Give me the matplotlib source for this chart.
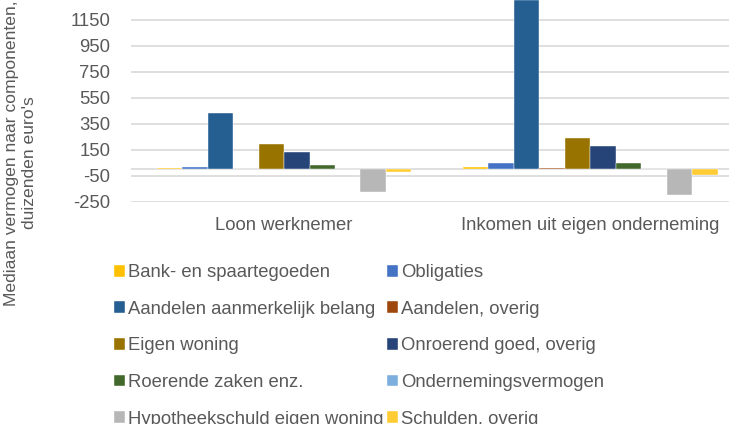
import matplotlib.pyplot as plt
import numpy as np

plt.rcParams['font.family'] = ['Liberation Sans', 'DejaVu Sans']
plt.rcParams['axes.unicode_minus'] = False

# data (duizenden euro's)
groups = ['Loon werknemer', 'Inkomen uit eigen onderneming']
components = ['Bank- en spaartegoeden', 'Obligaties', 'Aandelen aanmerkelijk belang',
              'Aandelen, overig', 'Eigen woning', 'Onroerend goed, overig',
              'Roerende zaken enz.', 'Ondernemingsvermogen',
              'Hypotheekschuld eigen woning', 'Schulden, overig']
loon = [6, 14, 430, 3, 191, 130, 30, 1, -178, -24]
inkomen = [15, 48, 1300, 10, 240, 176, 48, 5, -198, -45]
colors = ['#FFC000', '#4472C4', '#255E91', '#9E480E', '#997300',
          '#264478', '#43682B', '#7CAFDD', '#B7B7B7', '#FFCD33']
yticks = [-250, -50, 150, 350, 550, 750, 950, 1150]

txt = '#595959'
fig = plt.figure(figsize=(7.29, 4.24), dpi=100)
ax = fig.add_axes([131/729, 1 - 201.7/424, 1 - 131/729, 201.7/424])

x = np.arange(len(groups))
w = 0.0833
n = len(components)
handles = []
for i in range(n):
    vals = [loon[i], inkomen[i]]
    b = ax.bar(x + (i - (n - 1) / 2) * w, vals, width=w, color=colors[i],
               edgecolor='white', linewidth=0.3, label=components[i], zorder=3)
    handles.append(b)

ax.set_ylim(-250, 1302)
ax.set_xlim(-0.5, 1.454)
ax.set_yticks(yticks)
ax.yaxis.grid(True, color='#D9D9D9', linewidth=1.2, zorder=0)
ax.axhline(0, color='#D9D9D9', linewidth=1.2, zorder=2)
for s in ax.spines.values():
    s.set_visible(False)
ax.tick_params(axis='both', length=0, labelsize=13.3, colors=txt)
ax.tick_params(axis='y', pad=15)
ax.set_xticks(x)
ax.set_xticklabels(groups)
ax.tick_params(axis='x', pad=11)

fig.text(12/729, 1 - 153/424, 'Mediaan vermogen naar componenten,', rotation=90,
         ha='center', va='center', fontsize=12.6, color=txt)
fig.text(30/729, 1 - 163/424, "duizenden euro's", rotation=90,
         ha='center', va='center', fontsize=12.6, color=txt)

# legend is filled row by row in the reference
order = list(range(0, n, 2)) + list(range(1, n, 2))
leg = fig.legend(handles=[handles[k] for k in order],
                 labels=[components[k] for k in order], ncol=2,
                 loc='upper left', bbox_to_anchor=(105/729, 1 - 255/424),
                 frameon=False, fontsize=13.3, labelcolor=txt,
                 handlelength=0.6, handleheight=0.6, handletextpad=0.15,
                 columnspacing=0.2, labelspacing=1.06, borderpad=0)

fig.savefig('out.png', dpi=100)
